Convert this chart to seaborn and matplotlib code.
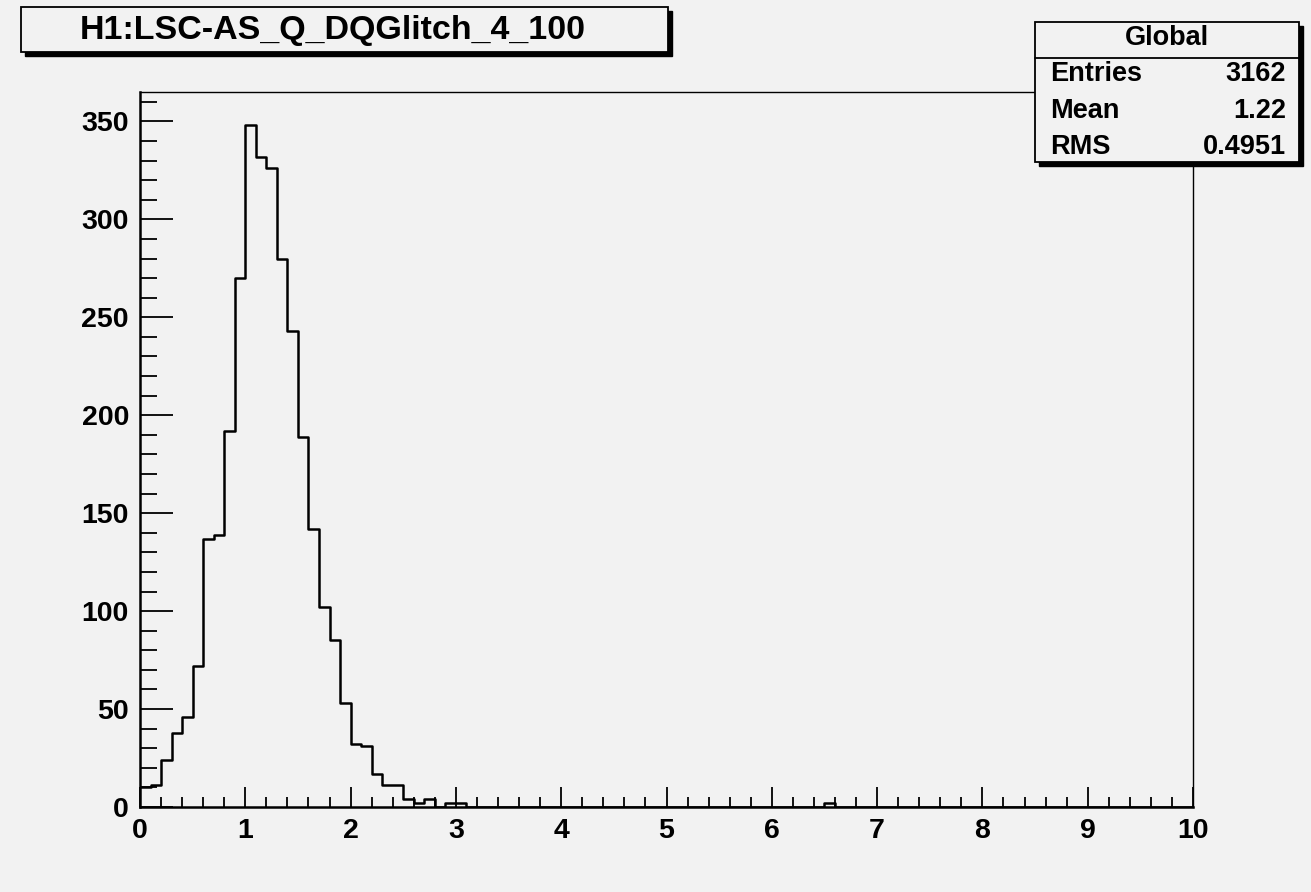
import numpy as np
import pandas as pd
import seaborn as sns
import matplotlib.pyplot as plt
from matplotlib.patches import Rectangle
from matplotlib.ticker import MultipleLocator

# histogram of H1:LSC-AS_Q glitches, 100 bins of width 0.1 on [0, 10]
n_bins = 100
q_range = (0, 10)
core_counts = [10, 11, 24, 38, 46, 72, 137, 139, 192, 270,
               348, 332, 326, 280, 243, 189, 142, 102, 85, 53,
               32, 31, 17, 11, 11, 4, 2, 4, 0, 2, 2]
outlier_bins = [65]
outlier_counts = [2]

title = "H1:LSC-AS_Q_DQGlitch_4_100"
stats_name = "Global"
stats_labels = ["Entries", "Mean", "RMS"]
stats_values = ["3162", "1.22", "0.4951"]

bin_edges = np.linspace(*q_range, n_bins + 1)
centers = (bin_edges[:-1] + bin_edges[1:]) / 2
df = pd.DataFrame({
    "q": np.concatenate([centers[:len(core_counts)], centers[outlier_bins]]),
    "n": core_counts + outlier_counts,
})

bg = "#f2f2f2"
W, H = 1311, 892
sns.set_style("ticks")
plt.rcParams["font.family"] = ["Liberation Sans", "DejaVu Sans"]
plt.rcParams["font.weight"] = "bold"
plt.rcParams["text.color"] = "black"
plt.rcParams["xtick.color"] = "black"
plt.rcParams["ytick.color"] = "black"
plt.rcParams["axes.edgecolor"] = "black"

fig = plt.figure(figsize=(W / 100, H / 100), dpi=100, facecolor=bg)
ax = fig.add_axes([140 / W, 1 - 807 / H, (1193 - 140) / W, (807 - 92) / H])
ax.set_facecolor(bg)

sns.histplot(data=df, x="q", weights="n", bins=n_bins, binrange=q_range,
             element="step", fill=False, color="black", linewidth=1.8, ax=ax)

ax.set_xlim(0, 10)
ax.set_ylim(0, 365)
ax.set_xlabel("")
ax.set_ylabel("")
ax.xaxis.set_major_locator(MultipleLocator(1))
ax.xaxis.set_minor_locator(MultipleLocator(0.2))
ax.yaxis.set_major_locator(MultipleLocator(50))
ax.yaxis.set_minor_locator(MultipleLocator(10))
ax.tick_params(which="both", direction="in", color="black", labelcolor="black",
               width=1.3, labelsize=20.5, pad=8, top=False, right=False)
ax.tick_params(axis="x", which="major", length=14.5)
ax.tick_params(axis="x", which="minor", length=7.5)
ax.tick_params(axis="y", which="major", length=24)
ax.tick_params(axis="y", which="minor", length=12)
for lab in ax.get_xticklabels() + ax.get_yticklabels():
    lab.set_fontweight("bold")
for side in ["left", "bottom"]:
    ax.spines[side].set_linewidth(1.8)
for side in ["top", "right"]:
    ax.spines[side].set_linewidth(1.0)


def px_box(x0, y0, x1, y1, shadow=4, z=5):
    fx0, fx1 = x0 / W, x1 / W
    fy0, fy1 = 1 - y1 / H, 1 - y0 / H
    fig.add_artist(Rectangle((fx0 + shadow / W, fy0 - shadow / H), fx1 - fx0, fy1 - fy0,
                             transform=fig.transFigure, facecolor="black",
                             edgecolor="black", zorder=z))
    fig.add_artist(Rectangle((fx0, fy0), fx1 - fx0, fy1 - fy0,
                             transform=fig.transFigure, facecolor=bg,
                             edgecolor="black", linewidth=1.3, zorder=z + 1))


def px_text(x, y, s, size, ha="center"):
    fig.text(x / W, 1 - y / H, s, ha=ha, va="center", fontsize=size,
             fontweight="bold", color="black", zorder=10)


# title box
px_box(21, 7, 668, 52)
px_text(333, 30, title, 24.5)

# stats box
px_box(1035, 22, 1299, 162, shadow=4)
fig.add_artist(plt.Line2D([1035 / W, 1299 / W], [1 - 58 / H, 1 - 58 / H],
                          transform=fig.transFigure, color="black", lw=1.3, zorder=8))
px_text(1167, 38, stats_name, 19.5)
for i, (lab, val) in enumerate(zip(stats_labels, stats_values)):
    yy = 74 + i * 36.5
    px_text(1050, yy, lab, 19.5, ha="left")
    px_text(1286, yy, val, 19.5, ha="right")

fig.savefig("out.png", dpi=100, facecolor=bg)
